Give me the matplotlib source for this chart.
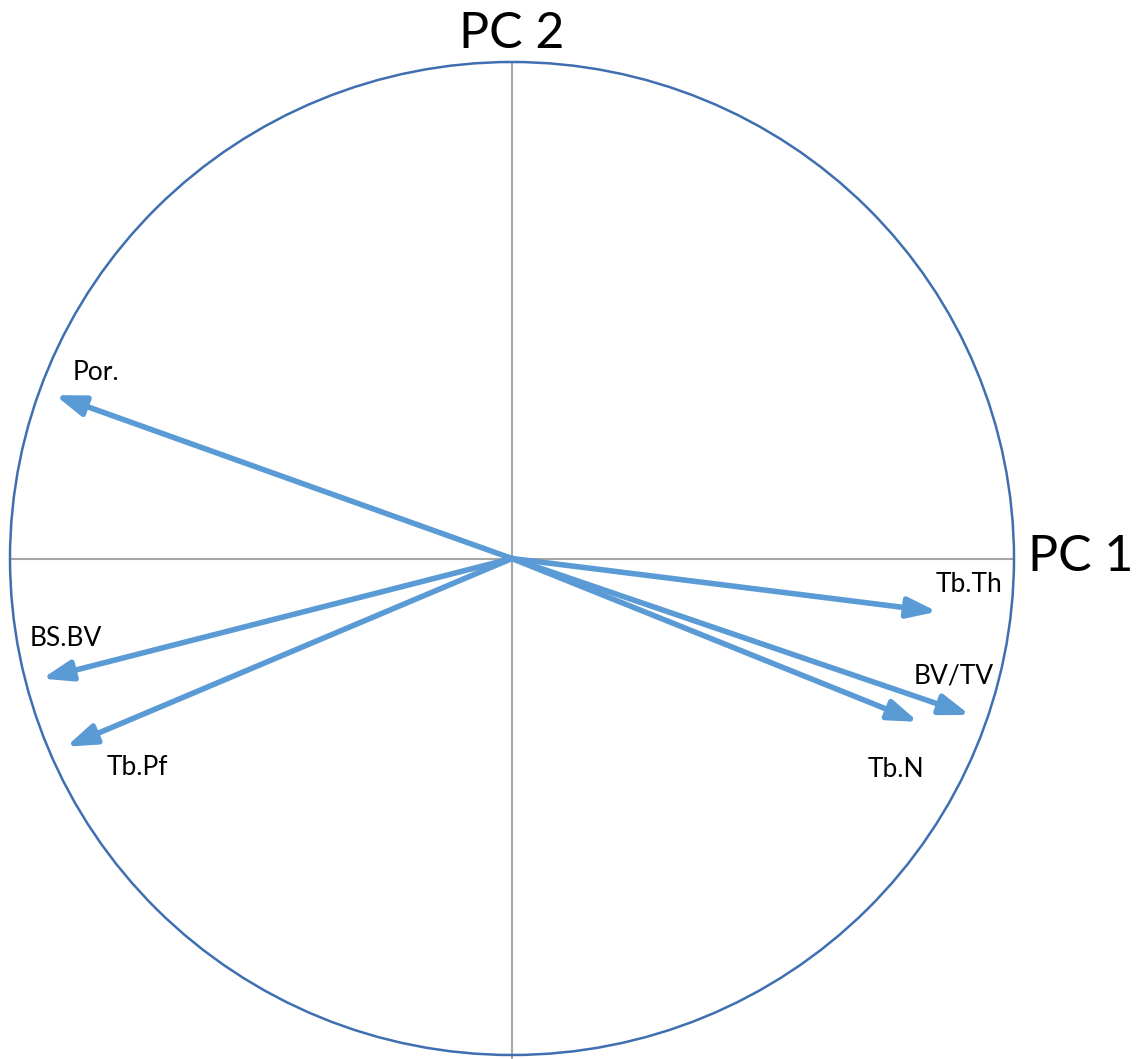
import matplotlib
matplotlib.use("Agg")
import matplotlib.pyplot as plt
from matplotlib.patches import Ellipse

# PCA loadings (PC1, PC2)
variables = ["Por.", "Tb.Th", "BV/TV", "Tb.N", "BS.BV", "Tb.Pf"]
pc1 = [-0.910, 0.847, 0.912, 0.809, -0.936, -0.888]
pc2 = [0.329, -0.107, -0.315, -0.329, -0.242, -0.379]

# where each label sits (data units)
label_pos = {
    "Por.": (-0.829, 0.375),
    "Tb.Th": (0.910, -0.052),
    "BV/TV": (0.880, -0.236),
    "Tb.N": (0.765, -0.425),
    "BS.BV": (-0.888, -0.161),
    "Tb.Pf": (-0.747, -0.421),
}

arrow_color = "#5b9bd5"
circle_color = "#3f6fb0"
axis_color = "#a6a6a6"

plt.rcParams["font.family"] = ["Lato", "DejaVu Sans"]

W, H = 1142, 1059
fig = plt.figure(figsize=(W / 100, H / 100), dpi=100)
# circle spans x 10..1014 px, y 62..1055 px
ax = fig.add_axes([10 / W, (H - 1055) / H, 1004 / W, 993 / H])
ax.set_xlim(-1, 1)
ax.set_ylim(-1, 1)
ax.axis("off")

ax.plot([-1, 1], [0, 0], color=axis_color, lw=1.5, zorder=1)
ax.plot([0, 0], [-1.01, 1], color=axis_color, lw=1.5, zorder=1, clip_on=False)
ax.add_patch(Ellipse((0, 0), 2, 2, fill=False, ec=circle_color, lw=1.8, zorder=2, clip_on=False))

for name, x, y in zip(variables, pc1, pc2):
    ax.annotate("", xy=(x, y), xytext=(0, 0),
                arrowprops=dict(arrowstyle="-|>,head_length=0.8,head_width=0.28",
                                lw=4, color=arrow_color, mutation_scale=22,
                                shrinkA=0, shrinkB=0), zorder=3)
    lx, ly = label_pos[name]
    ax.text(lx, ly, name, fontsize=19, ha="center", va="center", color="black")

ax.text(1.133, 0.004, "PC 1", fontsize=36, ha="center", va="center", clip_on=False)
ax.text(0, 1.056, "PC 2", fontsize=36, ha="center", va="center", clip_on=False)

fig.savefig("out.png", dpi=100, facecolor="white")
